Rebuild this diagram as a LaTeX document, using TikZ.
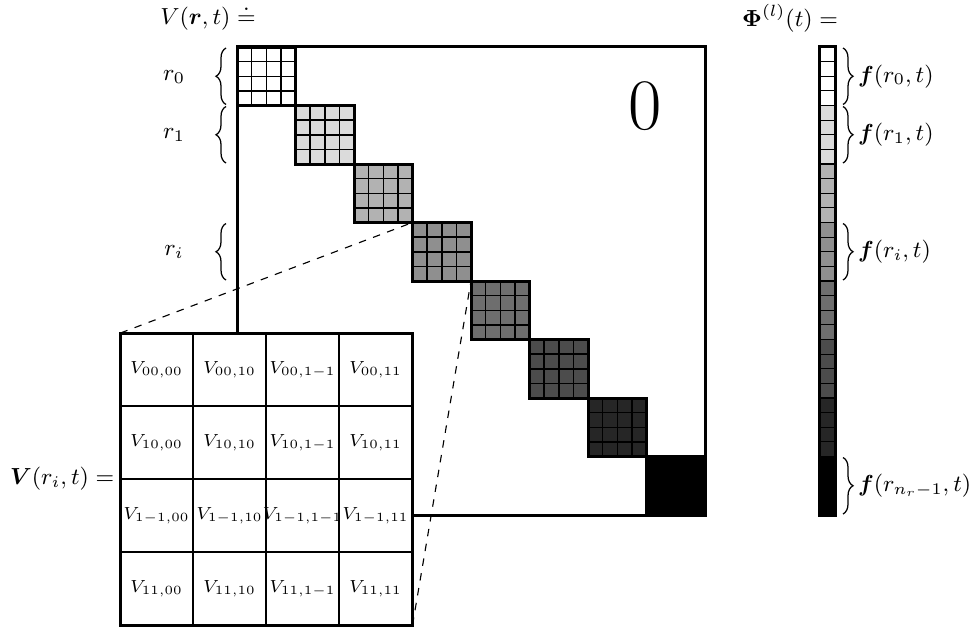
\RequirePackage{fix-cm}
\documentclass[tikz,border=0pt]{standalone}
\usepackage{bm}
\usetikzlibrary{decorations.pathreplacing,calc}
\begin{document}
\begin{tikzpicture}[x=0.4pt,y=-0.4pt,
  every node/.style={font=\fontsize{9.3}{11}\selectfont},
  framebox/.style={draw,rectangle,line width=1.2pt,inner sep=0pt,outer sep=0pt},
  blockbox/.style={framebox,minimum size=23.4pt},
  blockgrid/.style={line width=0.6pt},
  cellline/.style={line width=0.45pt},
  bracestyle/.style={decorate,decoration={brace,amplitude=4pt},line width=0.5pt},
  zoomline/.style={dashed,line width=0.45pt},
  entry/.style={font=\scriptsize,inner sep=1pt}]
\useasboundingbox (0,0) rectangle (971,627);

% the full block-diagonal matrix
\node[framebox,fill=white,minimum size=187.2pt] (mat) at (471,281) {};
\node[font=\fontsize{29}{32}\selectfont] (zero) at (645,106.5) {0};

% diagonal blocks, each split into a 4x4 grid
\foreach \k/\s in {0/0,1/14,2/30,3/44,4/57,5/70,6/85,7/100} {
  \pgfmathsetmacro{\X}{237+58.5*\k}
  \pgfmathsetmacro{\Y}{47+58.5*\k}
  \node[blockbox,fill=black!\s] (b\k) at (\X+29.25,\Y+29.25) {};
  \foreach \j in {1,2,3} {
    \draw[blockgrid] (\X+14.625*\j,\Y) -- (\X+14.625*\j,\Y+58.5);
    \draw[blockgrid] (\X,\Y+14.625*\j) -- (\X+58.5,\Y+14.625*\j);
  }
}

% magnified block
\node[framebox,fill=white,minimum size=116.8pt] (zbox) at (266.5,479) {};
\foreach \j in {1,2,3} {
  \draw[cellline] (120+73*\j,333) -- (120+73*\j,625);
  \draw[cellline] (120,333+73*\j) -- (412.5,333+73*\j);
}
\foreach \r/\rl [count=\ri from 0] in {00/00,10/10,1-1/1-1,11/11} {
  \foreach \c/\cl [count=\ci from 0] in {00/00,10/10,1-1/1-1,11/11} {
    \node[entry] (v\ri\ci) at (156.5+73*\ci,369.5+73*\ri) {$V_{\rl,\cl}$};
  }
}
\draw[zoomline] (zbox.north west) -- (b3.north west);
\draw[zoomline] (zbox.south east) -- (b3.south east);

% labels on the left
\node (vlab) at (208,18) {$V(\bm{r},t) \doteq$};
\node[anchor=east] (vilab) at (123,479) {$\bm{V}(r_i,t) =$};
\node (r0) at (174,77) {$r_0$};
\node (r1) at (174,135) {$r_1$};
\node (ri) at (174,252) {$r_i$};
\draw[bracestyle] ($(b0.south west)+(-11,-1)$) -- ($(b0.north west)+(-11,1)$);
\draw[bracestyle] ($(b1.south -| b0.west)+(-11,-1)$) -- ($(b1.north -| b0.west)+(-11,1)$);
\draw[bracestyle] ($(b3.south -| b0.west)+(-11,-1)$) -- ($(b3.north -| b0.west)+(-11,1)$);

% feature vector
\node (philab) at (790,18) {$\bm{\Phi}^{(l)}(t) =$};
\foreach \k/\s in {0/0,1/14,2/30,3/44,4/57,5/70,6/85,7/100} {
  \foreach \j in {0,1,2,3} {
    \draw[cellline,fill=black!\s] (819,47+58.5*\k+14.625*\j) rectangle (835,47+58.5*\k+14.625*\j+14.625);
  }
}
\node[framebox,minimum width=6.4pt,minimum height=187.2pt] (col) at (827,281) {};
\foreach \k/\lab in {0/{r_0},1/{r_1},3/{r_i},7/{r_{n_r-1}}} {
  \draw[bracestyle] ($(b\k.north -| col.east)+(8,1)$) -- ($(b\k.south -| col.east)+(8,-1)$);
  \node[anchor=west,inner sep=1pt] (f\k) at ($(b\k.center -| col.east)+(20,0)$) {$\bm{f}(\lab,t)$};
}
\end{tikzpicture}
\end{document}
